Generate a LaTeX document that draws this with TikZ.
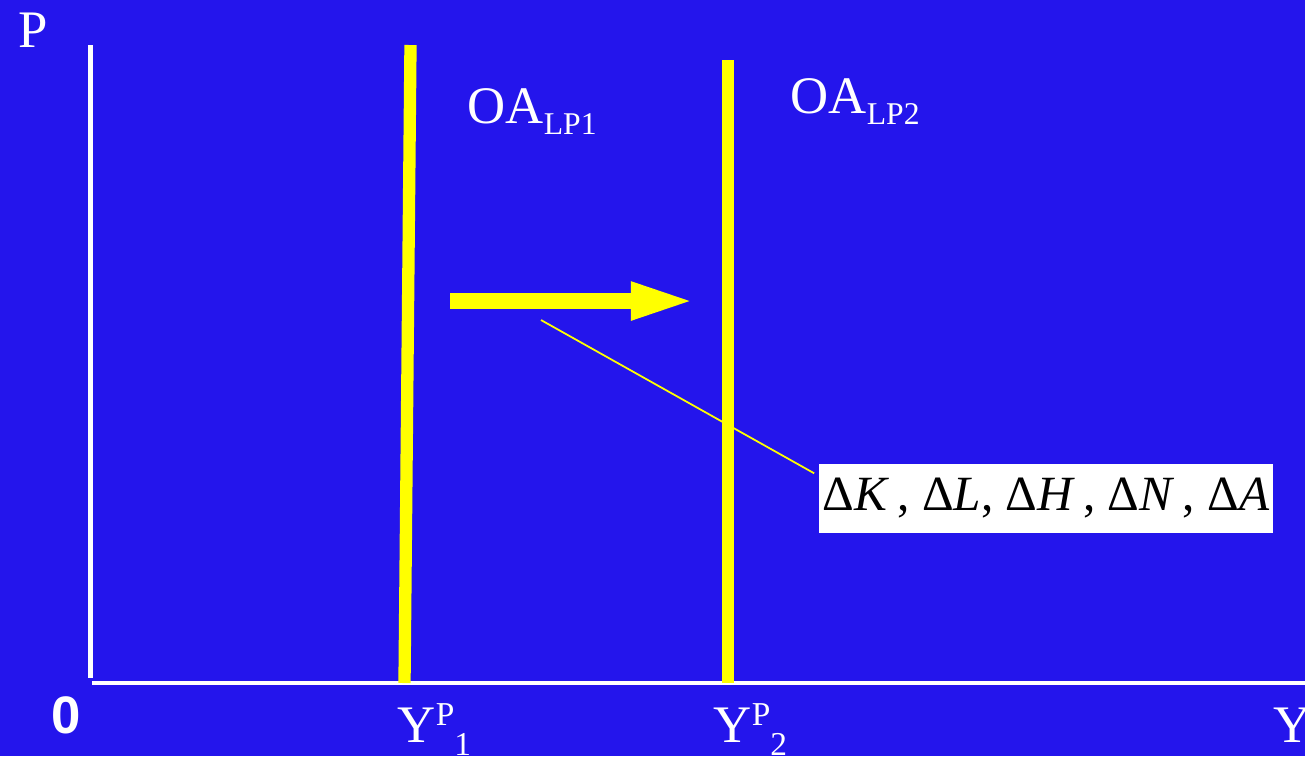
\documentclass[tikz,border=0pt]{standalone}
\usepackage{fontspec}
\setmainfont{Liberation Serif}
\newfontfamily\zerofont{Liberation Sans}
\usetikzlibrary{arrows.meta,positioning,calc}
\definecolor{ADblue}{RGB}{36,21,236}
\definecolor{ADyellow}{RGB}{255,255,0}
\newcommand{\lowsub}[1]{\raisebox{-3.4pt}{\fontsize{9}{10}\selectfont #1}}
\newcommand{\highsup}[1]{\raisebox{4.8pt}{\fontsize{9.5}{10}\selectfont #1}}
\newcommand{\deepsub}[1]{\raisebox{-3.8pt}{\fontsize{9.5}{10}\selectfont #1}}
\tikzset{
  axis/.style={draw=white,line width=1.25pt},
  oa/.style={draw=ADyellow,line width=3.5pt},
  shiftarr/.style={draw=ADyellow,line width=4.8pt,
                   -{Triangle[length=0.68cm,width=0.33cm]}},
  pointer/.style={draw=ADyellow,line width=0.5pt},
  lbl/.style={text=white,inner sep=0pt,anchor=base west,
              font=\fontsize{15}{18}\selectfont},
  factors/.style={fill=white,text=black,inner sep=0pt,
                  minimum width=4.54cm,minimum height=0.69cm,
                  font=\fontsize{14}{17}\selectfont}
}

\begin{document}
\begin{tikzpicture}[x=0.01cm,y=-0.01cm]
  \fill[ADblue] (0,0) rectangle (1305,756);
  \useasboundingbox (0,0) rectangle (1305,756);
  % axes
  \coordinate (ptop) at (90.5,45);
  \coordinate (pbot) at (90.5,678);
  \coordinate (yleft) at (92,683);
  \coordinate (yright) at (1305,683);
  \draw[axis] (ptop) -- (pbot);
  \draw[axis] (yleft) -- (yright);
  \node[lbl] (plbl) at (18,47) {P};
  \node[lbl,font=\fontsize{15}{18}\selectfont\zerofont\bfseries] (zero) at (51,733) {0};
  \node[lbl] (ylbl) at (1273,742) {Y};
  % long-run supply curves
  \coordinate (oa1top) at (410.5,45);
  \coordinate (oa1bot) at (404.5,683);
  \coordinate (oa2top) at (728,60);
  \coordinate (oa2bot) at (728,683);
  \draw[oa] (oa1top) -- (oa1bot);
  \draw[oa] (oa2top) -- (oa2bot);
  \node[lbl] (oa1) at (467,123) {OA\lowsub{LP1}};
  \node[lbl] (oa2) at (790,113) {OA\lowsub{LP2}};
  \node[lbl] (yp1) at (397,742) {Y\highsup{P}\deepsub{1}};
  \node[lbl] (yp2) at (713,742) {Y\highsup{P}\deepsub{2}};
  % shift
  \coordinate (shiftfrom) at (450,301);
  \coordinate (shiftto) at (699,301);
  \draw[shiftarr] (shiftfrom) -- (shiftto);
  \node[factors] (fac) at (1046,498.5)
    {Δ\textit{K}\,, Δ\textit{L}, Δ\textit{H}\,, Δ\textit{N}\,, Δ\textit{A}};
  \coordinate (ptr) at (541,320);
  \draw[pointer] (ptr) -- ($(fac.north west)+(-4,10)$);
\end{tikzpicture}
\end{document}
